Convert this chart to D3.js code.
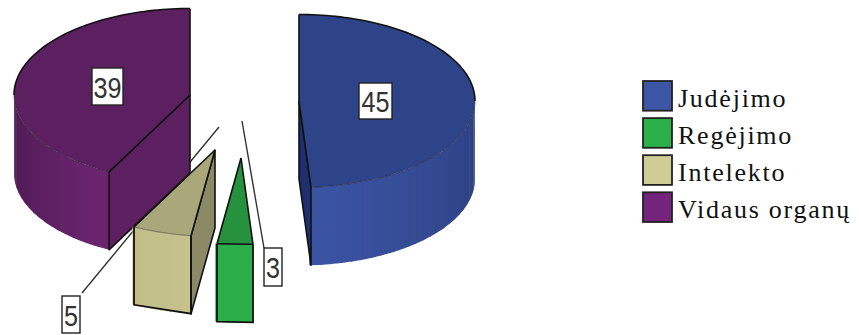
<!DOCTYPE html>
<html>
<head>
<meta charset="utf-8">
<script src="https://cdn.jsdelivr.net/npm/d3@7/dist/d3.min.js"></script>
<style>
html,body{margin:0;padding:0;background:#fff;overflow:hidden}
svg{display:block}
</style>
</head>
<body>
<svg id="chart" width="859" height="335"></svg>
<script>
// Disability groups and their counts
const categories = ["Judėjimo", "Regėjimo", "Intelekto", "Vidaus organų"];
const values = [45, 3, 5, 39];

// Per-slice colours: legend, near wall, top face, cut face, far wall shade
const swatchColors = ["#3c55a5", "#2bb04a", "#d0cc96", "#74247a"];
const nearColors = ["#3b54a3", "#2bad49", "#c6c28c", "#6c2570"];
const topColors = ["#2e4488", "#26923d", "#aaa77a", "#5c1f5f"];
const cutColors = ["#1e2f70", "#26923d", "#8c8a66", "#5c1f5f"];
const farColors = ["#2c3f80", "#2bad49", "#c2be8a", "#4a1a50"];

// Exploded slice centres on the page
const centreX = [299, 241, 215, 190];
const centreY = [101, 158, 150, 95];

const rx = 176, ry = 86.5, depth = 78;

const svg = d3.select("#chart");
const pie = d3.pie().sort(null).value(d => d)(values);

const ell = (i, a, dy = 0) => [
  centreX[i] + rx * Math.sin(a),
  centreY[i] - ry * Math.cos(a) + dy
];
const line = d3.line();
const arcPoints = (i, a0, a1, dy = 0) =>
  d3.range(0, 61).map(k => ell(i, a0 + (a1 - a0) * k / 60, dy));

function drawSlice(i) {
  const {startAngle: a0, endAngle: a1} = pie[i];
  const c = [centreX[i], centreY[i]];
  const g = svg.append("g");

  // outer wall, split into shaded strips along the front of the ellipse
  const w0 = Math.max(a0, Math.PI / 2), w1 = Math.min(a1, 3 * Math.PI / 2);
  if (w1 > w0) {
    const near = i === 0 ? w1 : w0;
    const far = i === 0 ? w0 : w1;
    const shade = d3.scaleLinear().domain([near, far]).range([nearColors[i], farColors[i]]);
    const strips = Math.max(3, Math.round((w1 - w0) / 0.06));
    const step = (w1 - w0) / strips;
    d3.range(strips).forEach(k => {
      const s = w0 + k * step, e = s + step;
      const top = d3.range(0, 5).map(n => ell(i, s + (e - s + 0.01) * n / 4));
      const bot = top.map(p => [p[0], p[1] + depth]);
      g.append("path")
        .attr("d", line(top.concat(bot.reverse())) + "Z")
        .attr("fill", shade((s + e) / 2));
    });
  }

  // flat cut face on the side that faces the viewer
  const cutAngle = i === 0 ? a1 : a0;
  const edge = ell(i, cutAngle);
  if (i !== 1) {
    g.append("path")
      .attr("d", line([c, edge, [edge[0], edge[1] + depth], [c[0], c[1] + depth]]) + "Z")
      .attr("fill", cutColors[i])
      .attr("stroke", "#111")
      .attr("stroke-width", 1.6)
      .attr("stroke-linejoin", "round");
  }

  // top face
  g.append("path")
    .attr("d", line([c].concat(arcPoints(i, a0, a1))) + "Z")
    .attr("fill", topColors[i]);

  // rim along the front of the top face, thin and soft
  if (w1 > w0) {
    g.append("path")
      .attr("d", line(arcPoints(i, w0, w1)))
      .attr("fill", "none")
      .attr("stroke", "#1a1a2a")
      .attr("stroke-opacity", 0.6)
      .attr("stroke-width", 0.8);
  }

  // heavy outline on the back rim and the straight edges
  const backArc = i === 0 ? arcPoints(i, a0, Math.PI / 2)
    : i === 3 ? arcPoints(i, 3 * Math.PI / 2, a1) : [];
  if (backArc.length) {
    g.append("path").attr("d", line(backArc))
      .attr("fill", "none").attr("stroke", "#111").attr("stroke-width", 1.6);
  }
  [ell(i, a0), ell(i, a1)].forEach(p => {
    g.append("path").attr("d", line([c, p]))
      .attr("fill", "none").attr("stroke", "#111").attr("stroke-width", 1.6);
  });

  // small wedges get a full outline around their front wall
  if (i === 1 || i === 2) {
    const a = ell(i, w0), b = ell(i, w1);
    g.append("path")
      .attr("d", line([a, [a[0], a[1] + depth], [b[0], b[1] + depth], b]))
      .attr("fill", "none").attr("stroke", "#111").attr("stroke-width", 1.8);
  }
  if (i === 1) {
    const a = ell(i, a0), b = ell(i, a1);
    g.append("path").attr("d", line([a, b]))
      .attr("fill", "none").attr("stroke", "#111").attr("stroke-width", 1.6);
  }
}

// Value labels: white boxes with narrowed digits
function valueBox(value, cx, cy, w, h) {
  const g = svg.append("g").attr("transform", `translate(${cx},${cy})`);
  g.append("rect")
    .attr("x", -w / 2).attr("y", -h / 2).attr("width", w).attr("height", h)
    .attr("fill", "#fff").attr("stroke", "#222").attr("stroke-width", 1.4);
  g.append("text")
    .attr("transform", "scale(0.84,1)")
    .attr("text-anchor", "middle")
    .attr("y", 11)
    .attr("font-family", "'Liberation Sans', Arial, sans-serif")
    .attr("font-size", 30)
    .attr("fill", "#333")
    .text(value);
}

// Leader lines sit behind the slices
const leader = d3.line();
svg.append("path").attr("d", leader([[219, 127], [82, 293]]))
  .attr("stroke", "#333").attr("stroke-width", 1.4).attr("fill", "none");
svg.append("path").attr("d", leader([[242, 121], [264, 248]]))
  .attr("stroke", "#333").attr("stroke-width", 1.4).attr("fill", "none");

// Paint back to front
[3, 2, 1, 0].forEach(drawSlice);

valueBox(values[3], 107.5, 86.5, 31, 37);
valueBox(values[0], 375.5, 101, 33, 36);
valueBox(values[1], 273, 267, 18, 38);
valueBox(values[2], 71, 314.5, 18, 37);

// Legend
const legendY = d3.scaleBand().domain(categories).range([81, 222]).paddingInner(0.2);
const colour = d3.scaleOrdinal().domain(categories).range(swatchColors);
const legend = svg.append("g");
const rows = legend.selectAll("g").data(categories).join("g")
  .attr("transform", d => `translate(643,${legendY(d)})`);
rows.append("rect")
  .attr("width", 29).attr("height", legendY.bandwidth())
  .attr("fill", d => colour(d))
  .attr("stroke", "#222").attr("stroke-width", 1.8);
rows.append("text")
  .attr("x", 35)
  .attr("y", 26)
  .attr("font-family", "'Liberation Serif', 'Times New Roman', serif")
  .attr("font-size", 26)
  .attr("letter-spacing", 1.75)
  .attr("fill", "#111")
  .text(d => d);
</script>
</body>
</html>
